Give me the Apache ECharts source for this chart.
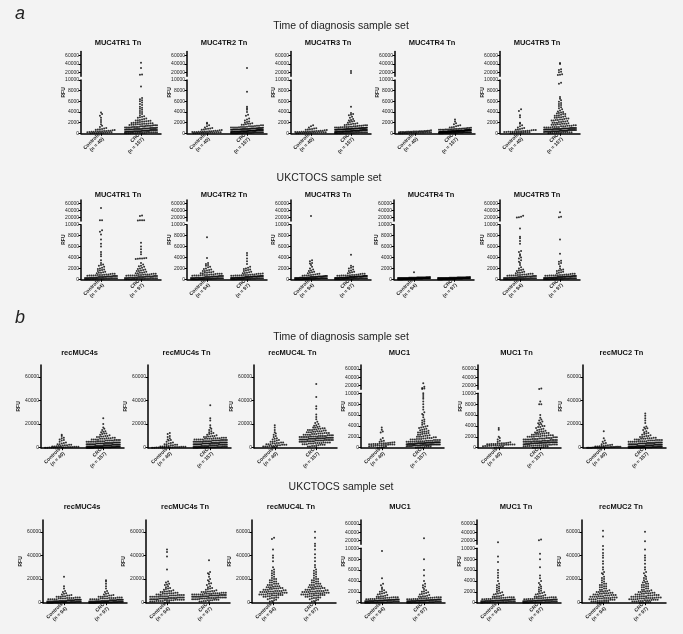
<!DOCTYPE html>
<html><head><meta charset="utf-8">
<script src="https://cdn.jsdelivr.net/npm/echarts@6/dist/echarts.min.js"></script>
<style>html,body{margin:0;padding:0;background:#f3f3f3}#c{width:683px;height:634px}</style>
</head><body><div id="c"></div>
<script>
// ---------- category labels ----------
const catsTOD = ['Controls\n(n = 40)', 'CRC\n(n = 157)'];
const catsUK = ['Controls\n(n = 94)', 'CRC\n(n = 97)'];
const ticksLow = [0, 2000, 4000, 6000, 8000, 10000];
const ticksHigh = [20000, 40000, 60000];
const ticksFull = [0, 20000, 40000, 60000];

// ---------- (a) Time of diagnosis ----------
const aTOD_TR1_ctrl = [3900,3600,3300,2900,2500,2100,1700,1400,1200,1000,900,800,750,700,650,600,550,500,480,450,420,400,380,350,320,300,280,250,220,200,180,160,140,120,100,90,70,50,40,20];
const aTOD_TR1_crc = [43000,30000,14500,14000,8800,6600,6400,6200,6000,5800,5500,5300,5000,4800,4600,4400,4200,4000,3800,3600,3400,3200,3100,3000,2900,2800,2700,2600,2500,2450,2400,2350,2300,2250,2200,2150,2100,2050,2000,2000,1950,1900,1900,1850,1800,1800,1750,1700,1700,1650,1600,1600,1550,1500,1500,1500,1450,1400,1400,1400,1350,1300,1300,1300,1250,1200,1200,1200,1200,1150,1100,1100,1100,1100,1050,1000,1000,1000,1000,1000,950,900,900,900,900,900,850,800,800,800,800,800,800,750,700,700,700,700,700,700,650,600,600,600,600,600,600,600,550,500,500,500,500,500,500,500,450,400,400,400,400,400,400,400,350,300,300,300,300,300,300,300,250,200,200,200,200,200,200,150,100,100,100,100,100,50,50,50,0,0,0,0];
const aTOD_TR2_ctrl = [2000,1800,1500,1300,1100,1000,900,850,800,700,650,600,550,500,500,450,400,400,350,350,300,300,300,250,250,250,200,200,200,150,150,150,100,100,100,80,60,50,30,10];
const aTOD_TR2_crc = [30000,7800,5000,4700,4400,4000,3500,3300,2800,2600,2400,2200,2100,2000,1900,1800,1800,1700,1600,1600,1500,1500,1400,1400,1350,1300,1300,1250,1200,1200,1200,1150,1100,1100,1100,1050,1000,1000,1000,1000,950,950,900,900,900,900,850,850,800,800,800,800,800,750,750,700,700,700,700,700,700,650,650,600,600,600,600,600,600,600,550,550,500,500,500,500,500,500,500,500,450,450,400,400,400,400,400,400,400,400,350,350,300,300,300,300,300,300,300,300,300,250,250,200,200,200,200,200,200,200,200,150,150,100,100,100,100,100,100,100,80,60,50,50,40,30,20,10,0,0,0,0,700,900,1100,1300,500,300,600,800];
const aTOD_TR3_ctrl = [1500,1300,1100,950,900,800,750,700,650,600,550,500,500,450,450,400,400,350,350,300,300,300,250,250,250,200,200,200,200,150,150,150,100,100,100,80,60,50,30,20];
const aTOD_TR3_crc = [23000,18000,5000,3800,3600,3500,3400,3100,2900,2700,2500,2400,2300,2200,2100,2000,1900,1800,1800,1700,1650,1600,1550,1500,1500,1450,1400,1400,1350,1300,1300,1250,1200,1200,1200,1150,1100,1100,1100,1050,1000,1000,1000,1000,1000,950,950,900,900,900,900,900,850,850,800,800,800,800,800,800,750,750,700,700,700,700,700,700,700,650,650,600,600,600,600,600,600,600,550,550,500,500,500,500,500,500,500,500,450,450,400,400,400,400,400,400,400,350,350,300,300,300,300,300,300,300,250,250,200,200,200,200,200,200,150,150,100,100,100,100,100,80,60,50,40,30,20,10,0,0,650,850,950,550,450,350,250,150,750,1050,1150,1250];
const aTOD_TR4_ctrl = [550,500,480,450,430,400,400,380,360,350,340,320,300,300,300,280,260,250,250,240,220,200,200,200,180,160,150,150,140,120,100,100,100,80,60,50,40,30,20,10];
const aTOD_TR4_crc = [2600,2200,1900,1700,1500,1400,1300,1200,1150,1100,1050,1000,1000,950,900,900,850,850,800,800,800,750,750,700,700,700,700,650,650,650,600,600,600,600,600,600,550,550,550,550,500,500,500,500,500,500,500,500,450,450,450,450,450,450,400,400,400,400,400,400,400,400,400,350,350,350,350,350,350,300,300,300,300,300,300,300,300,300,250,250,250,250,250,250,200,200,200,200,200,200,200,200,150,150,150,150,150,100,100,100,100,100,100,80,80,60,60,50,50,40,30,20,10,0,0,0,620,580,520,480,420,380,320,280,220,180,120,90,70,660,560,460,360,260,160,60,540,440,340,240,140,40,600,500,400,300,200];
const aTOD_TR5_ctrl = [4500,4200,3400,3000,2000,1800,1500,1300,1100,1000,900,800,700,650,600,600,550,500,500,450,450,400,400,350,350,300,300,300,250,250,200,200,200,150,150,100,100,60,40,20];
const aTOD_TR5_crc = [42000,40000,27000,25000,21000,20000,15000,14000,13000,9500,9300,6800,6500,6200,5900,5700,5500,5300,5100,4900,4700,4500,4300,4100,4000,3900,3800,3700,3600,3500,3400,3300,3200,3100,3000,3000,2900,2800,2800,2700,2600,2600,2500,2400,2400,2300,2200,2200,2100,2000,2000,2000,1900,1800,1800,1800,1700,1600,1600,1600,1500,1500,1400,1400,1400,1300,1300,1200,1200,1200,1200,1100,1100,1100,1000,1000,1000,1000,1000,950,900,900,900,900,900,850,800,800,800,800,800,800,750,700,700,700,700,700,700,650,600,600,600,600,600,600,550,500,500,500,500,500,500,450,400,400,400,400,400,350,300,300,300,300,300,250,200,200,200,200,150,100,100,100,50,50,0,3600,3300,2900,2500,2100,1700,1300,1000,900,800,700,600,500,400,300,200,1100];

// ---------- (a) UKCTOCS ----------
const aUK_TR1_ctrl = [47000,12500,12000,9000,8700,8200,7300,6500,6000,5000,4600,4200,3500,3000,2700,2600,2500,2300,2100,2000,1900,1800,1700,1600,1500,1400,1300,1200,1200,1100,1000,1000,950,900,900,850,800,800,800,750,700,700,700,650,600,600,600,600,550,500,500,500,500,450,450,400,400,400,400,400,350,350,300,300,300,300,300,250,250,250,250,200,200,200,200,200,150,150,150,150,100,100,100,100,100,80,60,50,50,40,30,20,10,0];
const aUK_TR1_crc = [26000,24000,12500,12000,11800,11500,6700,6000,5500,5000,4600,3900,3850,3800,3800,3750,3700,3000,2700,2500,2400,2300,2100,2000,1900,1800,1700,1600,1500,1400,1300,1200,1100,1100,1000,1000,950,900,900,850,800,800,750,700,700,700,650,600,600,600,550,500,500,500,500,450,400,400,400,400,350,350,300,300,300,300,250,250,250,200,200,200,200,150,150,150,100,100,100,100,80,60,50,40,30,20,10,0,0,300,500,700,900,1200,1500,200,400];
const aUK_TR2_ctrl = [7700,3900,3000,2800,2600,2500,2300,2200,2000,1900,1800,1700,1600,1500,1500,1400,1300,1300,1200,1200,1100,1100,1000,1000,1000,950,900,900,850,800,800,800,750,700,700,700,650,600,600,600,600,550,500,500,500,500,450,450,400,400,400,400,400,350,350,300,300,300,300,300,300,250,250,250,250,200,200,200,200,200,200,150,150,150,150,100,100,100,100,100,100,80,80,60,50,50,40,30,20,20,10,10,0,0];
const aUK_TR2_crc = [4800,4400,3800,3300,2800,2300,2100,2000,1900,1800,1700,1600,1500,1400,1300,1200,1150,1100,1050,1000,1000,950,900,900,850,800,800,800,750,700,700,700,650,650,600,600,600,600,550,550,500,500,500,500,500,450,450,400,400,400,400,400,400,350,350,350,300,300,300,300,300,300,300,250,250,250,250,200,200,200,200,200,200,150,150,150,150,100,100,100,100,100,100,80,60,50,50,40,30,20,10,0,0,250,350,450,550];
const aUK_TR3_ctrl = [24000,3500,3300,3000,2900,2600,2300,2000,1800,1600,1500,1400,1300,1200,1100,1000,950,900,850,800,750,700,700,650,600,600,600,550,550,500,500,500,500,450,450,400,400,400,400,400,350,350,350,300,300,300,300,300,300,300,250,250,250,250,250,200,200,200,200,200,200,200,150,150,150,150,150,100,100,100,100,100,100,80,80,60,60,50,50,40,40,30,30,20,20,10,10,0,0,0,200,300,400,500];
const aUK_TR3_crc = [4500,2500,2300,2100,2000,1800,1600,1500,1400,1300,1200,1100,1000,1000,950,900,850,800,800,750,700,700,700,650,650,600,600,600,600,550,550,500,500,500,500,500,450,450,450,400,400,400,400,400,400,350,350,350,350,300,300,300,300,300,300,300,250,250,250,250,250,200,200,200,200,200,200,150,150,150,150,150,100,100,100,100,100,100,80,60,50,40,30,20,10,0,0,0,300,400,500,600,700,200,250,350,450];
const aUK_TR4_ctrl = [1300,400,390,380,370,360,350,340,330,320,310,300,300,300,300,290,280,270,260,250,250,250,250,240,230,220,210,200,200,200,200,200,190,180,170,160,150,150,150,150,150,140,130,120,110,100,100,100,100,100,100,90,80,70,60,50,50,50,50,40,30,20,10,0,0,0,0,320,280,240,200,160,120,80,40,330,270,230,190,170,130,90,60,20,340,260,220,180,140,110,70,30,350,310];
const aUK_TR4_crc = [400,390,380,370,360,350,340,330,320,310,300,300,300,300,290,280,270,260,250,250,250,250,240,230,220,210,200,200,200,200,200,190,180,170,160,150,150,150,150,150,140,130,120,110,100,100,100,100,100,100,90,80,70,60,50,50,50,50,40,30,20,10,0,0,0,0,320,280,240,200,160,120,80,40,330,270,230,190,170,130,90,60,20,340,260,220,180,140,110,70,30,350,310,250,210,150,110];
const aUK_TR5_ctrl = [25000,22000,21000,20000,9300,7800,7500,7000,6500,5200,5000,4600,4300,4000,3800,3500,3200,3000,2600,2200,2000,1800,1700,1600,1500,1400,1300,1200,1200,1100,1000,1000,950,900,900,850,800,800,750,700,700,700,650,600,600,600,550,500,500,500,500,450,450,400,400,400,400,400,350,350,300,300,300,300,300,250,250,250,250,200,200,200,200,200,150,150,150,150,100,100,100,100,100,80,60,50,50,40,30,20,10,0,0,0];
const aUK_TR5_crc = [35000,22000,21000,7300,4700,3400,3200,3000,2800,2400,2000,1800,1700,1600,1500,1400,1300,1200,1100,1000,1000,950,900,900,850,800,800,750,700,700,700,650,600,600,600,550,500,500,500,500,450,450,400,400,400,400,400,350,350,300,300,300,300,300,250,250,250,250,200,200,200,200,200,150,150,150,150,100,100,100,100,100,80,60,50,50,40,30,20,10,0,0,0,250,350,450,550,650,750,200,300,400,500,600,150,100];

// ---------- (b) Time of diagnosis ----------
const bTOD_rec4s_ctrl = [11000,10000,8500,8000,7000,6500,6000,5000,4500,4000,3500,3000,3000,2500,2500,2000,2000,1800,1500,1500,1200,1000,1000,800,800,700,600,500,500,400,400,300,300,200,200,150,100,100,50,0];
const bTOD_rec4s_crc = [25000,20000,17000,16000,15000,14000,13500,13000,12000,12000,11500,11000,10500,10000,10000,9500,9500,9000,9000,8500,8500,8000,8000,8000,7500,7500,7500,7000,7000,7000,7000,6500,6500,6500,6500,6000,6000,6000,6000,6000,5500,5500,5500,5500,5500,5000,5000,5000,5000,5000,5000,4500,4500,4500,4500,4500,4500,4000,4000,4000,4000,4000,4000,4000,3500,3500,3500,3500,3500,3500,3500,3000,3000,3000,3000,3000,3000,3000,3000,2500,2500,2500,2500,2500,2500,2500,2500,2000,2000,2000,2000,2000,2000,2000,2000,1500,1500,1500,1500,1500,1500,1500,1500,1000,1000,1000,1000,1000,1000,1000,1000,800,800,800,800,800,600,600,600,600,600,400,400,400,400,400,300,300,300,300,200,200,200,200,200,100,100,100,100,100,50,50,50,0,0,0,0,0];
const bTOD_rec4sTn_ctrl = [12500,11500,10000,9000,8000,7000,6500,6000,5000,4500,4000,3500,3000,3000,2500,2500,2000,2000,1500,1500,1200,1000,1000,800,800,700,600,500,500,400,400,300,300,200,200,150,100,100,50,0];
const bTOD_rec4sTn_crc = [36000,25000,23000,19000,17000,16000,15000,14000,13000,12500,12000,11500,11000,10500,10000,10000,9500,9500,9000,9000,8500,8500,8500,8000,8000,8000,8000,7500,7500,7500,7500,7000,7000,7000,7000,7000,6500,6500,6500,6500,6500,6000,6000,6000,6000,6000,6000,5500,5500,5500,5500,5500,5500,5000,5000,5000,5000,5000,5000,5000,4500,4500,4500,4500,4500,4500,4500,4000,4000,4000,4000,4000,4000,4000,4000,3500,3500,3500,3500,3500,3500,3500,3500,3000,3000,3000,3000,3000,3000,3000,3000,2500,2500,2500,2500,2500,2500,2500,2000,2000,2000,2000,2000,2000,2000,1500,1500,1500,1500,1500,1500,1000,1000,1000,1000,1000,1000,800,800,800,800,600,600,600,600,400,400,400,400,300,300,300,200,200,200,100,100,100,50,50,0,0];
const bTOD_rec4LTn_ctrl = [19000,17000,15000,13000,12000,11000,10000,9000,8000,7500,7000,6500,6000,5500,5000,5000,4500,4500,4000,4000,3500,3500,3000,3000,3000,2500,2500,2500,2000,2000,2000,1500,1500,1500,1000,1000,1000,800,500,300];
const bTOD_rec4LTn_crc = [54000,43000,35000,33000,28000,26000,24000,22000,21000,20000,19000,18500,18000,17500,17000,17000,16500,16500,16000,16000,15500,15500,15000,15000,15000,14500,14500,14000,14000,14000,13500,13500,13000,13000,13000,12500,12500,12500,12000,12000,12000,11500,11500,11500,11000,11000,11000,11000,10500,10500,10500,10500,10000,10000,10000,10000,10000,9500,9500,9500,9500,9500,9000,9000,9000,9000,9000,9000,8500,8500,8500,8500,8500,8500,8000,8000,8000,8000,8000,8000,8000,7500,7500,7500,7500,7500,7500,7000,7000,7000,7000,7000,7000,7000,6500,6500,6500,6500,6500,6500,6000,6000,6000,6000,6000,6000,5500,5500,5500,5500,5500,5000,5000,5000,5000,5000,4500,4500,4500,4500,4000,4000,4000,4000,3500,3500,3500,3000,3000,3000,2500,2500,2500,2000,2000,1500,1500,1000,1000,500];
const bTOD_MUC1_ctrl = [3700,3300,3000,2800,1800,1500,1300,1200,1100,1000,950,900,850,800,800,750,750,700,700,700,650,650,600,600,600,550,500,500,450,400,400,350,300,300,250,200,150,100,50,0];
const bTOD_MUC1_crc = [25000,16000,13000,12000,11000,10000,9700,9300,9000,8500,8000,7500,7000,6500,6200,6000,5600,5200,5000,4800,4600,4400,4200,4000,3900,3800,3700,3600,3500,3400,3300,3200,3100,3000,3000,2900,2800,2800,2700,2600,2600,2500,2400,2400,2300,2200,2200,2100,2000,2000,2000,1900,1900,1800,1800,1800,1700,1700,1600,1600,1600,1500,1500,1500,1400,1400,1400,1400,1300,1300,1300,1300,1200,1200,1200,1200,1200,1100,1100,1100,1100,1100,1000,1000,1000,1000,1000,1000,950,950,900,900,900,900,900,900,850,850,800,800,800,800,800,800,800,750,750,700,700,700,700,700,700,700,650,650,600,600,600,600,600,600,600,550,550,500,500,500,500,500,500,450,450,400,400,400,400,400,350,300,300,300,300,250,200,200,200,150,100,100,50,0];
const bTOD_MUC1Tn_ctrl = [3600,3300,2000,1800,1500,1300,1100,1000,900,850,800,800,750,750,700,700,700,650,650,600,600,600,550,550,500,500,450,450,400,400,350,350,300,300,250,200,150,100,50,0];
const bTOD_MUC1Tn_crc = [12000,11000,8500,8000,8000,6000,5500,5200,5000,4800,4600,4500,4300,4200,4000,4000,3800,3800,3600,3500,3400,3300,3200,3100,3000,3000,2900,2800,2800,2700,2700,2600,2600,2500,2500,2500,2400,2400,2300,2300,2300,2200,2200,2200,2100,2100,2100,2000,2000,2000,2000,1900,1900,1900,1800,1800,1800,1800,1700,1700,1700,1700,1600,1600,1600,1600,1500,1500,1500,1500,1500,1400,1400,1400,1400,1400,1300,1300,1300,1300,1300,1200,1200,1200,1200,1200,1200,1100,1100,1100,1100,1100,1100,1000,1000,1000,1000,1000,1000,950,950,950,900,900,900,900,850,850,850,800,800,800,800,750,750,750,700,700,700,700,650,650,600,600,600,550,550,500,500,500,450,450,400,400,350,350,300,300,250,250,200,200,150,100,100,50,0,0];
const bTOD_rec2Tn_ctrl = [14000,8000,6000,5000,4000,3500,3000,2500,2200,2000,1800,1500,1500,1200,1000,1000,900,800,800,700,600,600,500,500,400,400,350,300,300,250,200,200,150,100,100,80,50,30,10,0];
const bTOD_rec2Tn_crc = [29000,27000,25000,23000,21000,18000,17000,16500,16000,15000,14000,13000,12500,12000,11500,11000,10500,10000,10000,9500,9000,9000,8500,8500,8000,8000,8000,7500,7500,7500,7000,7000,7000,6500,6500,6500,6500,6000,6000,6000,6000,5500,5500,5500,5500,5500,5000,5000,5000,5000,5000,4500,4500,4500,4500,4500,4500,4000,4000,4000,4000,4000,4000,4000,3500,3500,3500,3500,3500,3500,3500,3000,3000,3000,3000,3000,3000,3000,3000,2500,2500,2500,2500,2500,2500,2500,2500,2000,2000,2000,2000,2000,2000,2000,2000,1500,1500,1500,1500,1500,1500,1500,1500,1000,1000,1000,1000,1000,1000,1000,1000,800,800,800,800,800,600,600,600,600,600,400,400,400,400,400,300,300,300,300,200,200,200,200,100,100,100,100,50,50,50,0,0,0];

// ---------- (b) UKCTOCS ----------
const bUK_rec4s_ctrl = [22000,14000,12000,10000,9000,8000,7500,7000,6500,6000,6000,5500,5500,5000,5000,5000,4500,4500,4500,4000,4000,4000,4000,3500,3500,3500,3500,3000,3000,3000,3000,3000,2500,2500,2500,2500,2500,2500,2000,2000,2000,2000,2000,2000,2000,1500,1500,1500,1500,1500,1500,1500,1200,1200,1200,1200,1200,1000,1000,1000,1000,1000,1000,800,800,800,800,800,600,600,600,600,600,400,400,400,400,400,300,300,300,200,200,200,200,100,100,100,50,50,0,0,0,0];
const bUK_rec4s_crc = [19000,18000,16000,14000,12000,10000,9000,8000,7500,7000,6500,6000,6000,5500,5500,5000,5000,5000,4500,4500,4500,4000,4000,4000,4000,3500,3500,3500,3500,3000,3000,3000,3000,3000,2500,2500,2500,2500,2500,2500,2000,2000,2000,2000,2000,2000,2000,1500,1500,1500,1500,1500,1500,1500,1200,1200,1200,1200,1200,1000,1000,1000,1000,1000,1000,800,800,800,800,800,600,600,600,600,600,400,400,400,400,400,300,300,300,200,200,200,200,100,100,100,50,50,0,0,0,0,0];
const bUK_rec4sTn_ctrl = [45000,43000,39000,28000,18000,17000,16000,15500,15000,14000,13000,12500,12000,11500,11000,10500,10000,10000,9500,9500,9000,9000,8500,8500,8000,8000,8000,7500,7500,7500,7000,7000,7000,6500,6500,6500,6500,6000,6000,6000,6000,5500,5500,5500,5500,5500,5000,5000,5000,5000,5000,4500,4500,4500,4500,4500,4000,4000,4000,4000,4000,4000,3500,3500,3500,3500,3500,3500,3000,3000,3000,3000,3000,3000,2500,2500,2500,2500,2500,2000,2000,2000,2000,2000,1500,1500,1500,1500,1000,1000,1000,500,500,0];
const bUK_rec4sTn_crc = [36000,26000,25000,24000,22000,20000,19000,18000,16500,16000,15000,14000,13000,12500,12000,11500,11000,10500,10000,10000,9500,9500,9000,9000,9000,8500,8500,8500,8000,8000,8000,8000,7500,7500,7500,7500,7000,7000,7000,7000,7000,6500,6500,6500,6500,6500,6000,6000,6000,6000,6000,6000,5500,5500,5500,5500,5500,5000,5000,5000,5000,5000,5000,4500,4500,4500,4500,4500,4000,4000,4000,4000,4000,3500,3500,3500,3500,3000,3000,3000,3000,2500,2500,2500,2000,2000,2000,1500,1500,1000,1000,500,3200,4200,5200,6200,7200];
const bUK_rec4LTn_ctrl = [55000,54000,45000,40000,38000,35000,30000,28000,27000,26000,25000,24000,23000,22000,21000,20000,20000,19000,19000,18000,18000,17000,17000,16000,16000,16000,15000,15000,15000,14000,14000,14000,13500,13000,13000,13000,12500,12500,12000,12000,12000,11500,11500,11000,11000,11000,10500,10500,10000,10000,10000,10000,9500,9500,9500,9000,9000,9000,9000,8500,8500,8500,8000,8000,8000,8000,7500,7500,7500,7000,7000,7000,7000,6500,6500,6500,6000,6000,6000,5500,5500,5000,5000,4500,4500,4000,4000,3500,3000,2500,2000,1500,1000,500];
const bUK_rec4LTn_crc = [60000,55000,50000,48000,45000,41000,38000,35000,32000,30000,28000,26000,25000,24000,23000,22000,21000,20000,20000,19000,19000,18000,18000,17000,17000,16000,16000,16000,15000,15000,15000,14000,14000,14000,13500,13000,13000,13000,12500,12500,12000,12000,12000,11500,11500,11000,11000,11000,10500,10500,10000,10000,10000,10000,9500,9500,9500,9000,9000,9000,9000,8500,8500,8500,8000,8000,8000,8000,7500,7500,7500,7000,7000,7000,7000,6500,6500,6500,6000,6000,6000,5500,5500,5000,5000,4500,4500,4000,4000,3500,3000,2500,2000,1500,1000,500,27000];
const bUK_MUC1_ctrl = [9500,4500,3500,3200,2800,2500,2300,2100,2000,1900,1800,1700,1600,1500,1400,1300,1200,1200,1100,1100,1000,1000,1000,950,900,900,850,800,800,800,750,700,700,700,650,650,600,600,600,600,550,550,500,500,500,500,450,450,450,400,400,400,400,400,350,350,350,300,300,300,300,300,250,250,250,250,200,200,200,200,200,150,150,150,150,100,100,100,100,100,80,60,50,50,40,30,20,10,0,0,0,350,450,550];
const bUK_MUC1_crc = [25000,8000,6000,5000,4000,3500,3200,3000,2800,2500,2300,2100,2000,1900,1800,1700,1600,1500,1400,1300,1200,1200,1100,1100,1000,1000,1000,950,900,900,850,800,800,800,750,700,700,700,650,650,600,600,600,600,550,550,500,500,500,500,450,450,450,400,400,400,400,400,350,350,350,300,300,300,300,300,250,250,250,250,200,200,200,200,200,150,150,150,150,100,100,100,100,100,80,60,50,50,40,30,20,10,0,0,0,350,450,550,650];
const bUK_MUC1Tn_ctrl = [15000,8500,7500,6000,5500,5000,4600,4000,3500,3200,3000,2800,2600,2400,2200,2000,1900,1800,1700,1600,1500,1400,1300,1200,1200,1100,1100,1000,1000,1000,950,900,900,850,800,800,800,750,700,700,700,650,650,600,600,600,600,550,550,500,500,500,500,450,450,450,400,400,400,400,400,350,350,350,300,300,300,300,300,250,250,250,250,200,200,200,200,200,150,150,150,150,100,100,100,100,100,80,60,50,40,30,20,10,0];
const bUK_MUC1Tn_crc = [22000,20000,9000,8000,6500,5000,4500,4000,3600,3300,3000,2800,2600,2400,2200,2000,1900,1800,1700,1600,1500,1400,1300,1200,1200,1100,1100,1000,1000,1000,950,900,900,850,800,800,800,750,700,700,700,650,650,600,600,600,600,550,550,500,500,500,500,450,450,450,400,400,400,400,400,350,350,350,300,300,300,300,300,250,250,250,250,200,200,200,200,200,150,150,150,150,100,100,100,100,100,80,60,50,40,30,20,10,0,0,0,0];
const bUK_rec2Tn_ctrl = [61000,56000,48000,45000,42000,40000,38000,35000,33000,30000,28000,26000,25000,24000,22000,21000,20000,19000,18000,17000,16000,16000,15000,15000,14000,14000,13000,13000,12000,12000,11000,11000,10500,10000,10000,9500,9500,9000,9000,8500,8500,8000,8000,8000,7500,7500,7000,7000,7000,6500,6500,6500,6000,6000,6000,5500,5500,5500,5000,5000,5000,5000,4500,4500,4500,4000,4000,4000,4000,3500,3500,3500,3000,3000,3000,3000,2500,2500,2500,2000,2000,2000,1500,1500,1500,1000,1000,1000,500,500,500,0,0,0];
const bUK_rec2Tn_crc = [60000,52000,45000,40000,38000,36000,33000,30000,28000,26000,25000,23000,22000,21000,20000,19000,18000,17500,17000,16000,16000,15000,15000,14000,14000,13000,13000,12000,12000,11000,11000,10500,10000,10000,9500,9500,9000,9000,8500,8500,8000,8000,8000,7500,7500,7000,7000,7000,6500,6500,6500,6000,6000,6000,5500,5500,5500,5000,5000,5000,5000,4500,4500,4500,4000,4000,4000,4000,3500,3500,3500,3000,3000,3000,3000,2500,2500,2500,2000,2000,2000,1500,1500,1500,1000,1000,1000,500,500,500,0,0,0,2200,3200,4200,5200];

// ---------- layout ----------
const FONT = 'Liberation Sans, Arial, sans-serif';
const rows = {
  a1: {top: 51.5, bottom: 133.3, upBottom: 76.3, lowTop: 80, titleY: 43, w: 80, xs: [81, 187, 291, 395, 500], cats: catsTOD},
  a2: {top: 200, bottom: 279.3, upBottom: 221, lowTop: 224.7, titleY: 195, w: 80, xs: [81, 187, 291, 394, 500], cats: catsUK},
  b1: {top: 365, bottom: 447.7, upBottom: 389.3, lowTop: 393.3, titleY: 353, w: 83, xs: [41, 148, 254, 361, 478, 583], cats: catsTOD},
  b2: {top: 520, bottom: 602.7, upBottom: 544.3, lowTop: 548.3, titleY: 507, w: 84, xs: [43, 146, 252, 361, 477, 582], cats: catsUK}
};
const panels = [
  ['a1', 'MUC4TR1 Tn', true, aTOD_TR1_ctrl, aTOD_TR1_crc],
  ['a1', 'MUC4TR2 Tn', true, aTOD_TR2_ctrl, aTOD_TR2_crc],
  ['a1', 'MUC4TR3 Tn', true, aTOD_TR3_ctrl, aTOD_TR3_crc],
  ['a1', 'MUC4TR4 Tn', true, aTOD_TR4_ctrl, aTOD_TR4_crc],
  ['a1', 'MUC4TR5 Tn', true, aTOD_TR5_ctrl, aTOD_TR5_crc],
  ['a2', 'MUC4TR1 Tn', true, aUK_TR1_ctrl, aUK_TR1_crc],
  ['a2', 'MUC4TR2 Tn', true, aUK_TR2_ctrl, aUK_TR2_crc],
  ['a2', 'MUC4TR3 Tn', true, aUK_TR3_ctrl, aUK_TR3_crc],
  ['a2', 'MUC4TR4 Tn', true, aUK_TR4_ctrl, aUK_TR4_crc],
  ['a2', 'MUC4TR5 Tn', true, aUK_TR5_ctrl, aUK_TR5_crc],
  ['b1', 'recMUC4s', false, bTOD_rec4s_ctrl, bTOD_rec4s_crc],
  ['b1', 'recMUC4s Tn', false, bTOD_rec4sTn_ctrl, bTOD_rec4sTn_crc],
  ['b1', 'recMUC4L Tn', false, bTOD_rec4LTn_ctrl, bTOD_rec4LTn_crc],
  ['b1', 'MUC1', true, bTOD_MUC1_ctrl, bTOD_MUC1_crc],
  ['b1', 'MUC1 Tn', true, bTOD_MUC1Tn_ctrl, bTOD_MUC1Tn_crc],
  ['b1', 'recMUC2 Tn', false, bTOD_rec2Tn_ctrl, bTOD_rec2Tn_crc],
  ['b2', 'recMUC4s', false, bUK_rec4s_ctrl, bUK_rec4s_crc],
  ['b2', 'recMUC4s Tn', false, bUK_rec4sTn_ctrl, bUK_rec4sTn_crc],
  ['b2', 'recMUC4L Tn', false, bUK_rec4LTn_ctrl, bUK_rec4LTn_crc],
  ['b2', 'MUC1', true, bUK_MUC1_ctrl, bUK_MUC1_crc],
  ['b2', 'MUC1 Tn', true, bUK_MUC1Tn_ctrl, bUK_MUC1Tn_crc],
  ['b2', 'recMUC2 Tn', false, bUK_rec2Tn_ctrl, bUK_rec2Tn_crc]
];

const DOT = 2.3, STEP = 2.1;
function swarm(vals, center, min, max, hPx, unitsPerPx, halfW) {
  const s = vals.slice().sort((a, b) => a - b);
  const bins = {}, order = [];
  s.forEach(v => {
    const b = Math.round((v - min) / (max - min) * hPx / DOT);
    if (!bins[b]) { bins[b] = []; order.push(b); }
    bins[b].push(v);
  });
  const out = [];
  order.forEach(b => {
    const arr = bins[b], n = arr.length;
    const dx = n > 1 ? Math.min(STEP, 2 * halfW / (n - 1)) : 0;
    arr.forEach((v, i) => out.push([center + (i - (n - 1) / 2) * dx * unitsPerPx, v]));
  });
  return out;
}

const grids = [], xAxis = [], yAxis = [], series = [], graphic = [];
const axisLineStyle = {show: true, lineStyle: {color: '#000', width: 1.5}};
const tickStyle = {show: true, length: 2.5, lineStyle: {color: '#000', width: 1}};
const yLabel = {fontSize: 5, color: '#222', fontFamily: FONT, margin: 2, formatter: v => String(v)};

function addGrid(l, t, w, h) { grids.push({left: l, top: t, width: w, height: h, containLabel: false}); return grids.length - 1; }

function addPoints(xi, yi, vals, min, max, h, w) {
  const halfW = w * 0.2;
  const data = [].concat(swarm(vals[0], 0.5, min, max, h, 2 / w, halfW), swarm(vals[1], 1.5, min, max, h, 2 / w, halfW));
  series.push({type: 'scatter', xAxisIndex: xi, yAxisIndex: yi, data: data, symbol: 'circle', symbolSize: 2,
    itemStyle: {color: '#000'}, silent: true, animation: false, clip: false});
}

panels.forEach(p => {
  const [rk, title, broken, ctrl, crc] = p;
  const r = rows[rk];
  const idx = panels.filter(q => q[0] === rk).indexOf(p);
  const x = r.xs[idx], w = r.w;
  graphic.push({type: 'text', x: x + w / 2 - 3, y: r.titleY, style: {text: title, fontSize: 7.5, fontWeight: 'bold', fontFamily: FONT, fill: '#111', align: 'center', verticalAlign: 'middle'}});
  const lowTop = broken ? r.lowTop : r.top;
  const hLow = r.bottom - lowTop;
  const gi = addGrid(x, lowTop, w, hLow);
  xAxis.push({type: 'category', gridIndex: gi, data: r.cats, position: 'bottom', boundaryGap: true,
    axisLine: axisLineStyle, axisTick: {show: true, length: 2.5, alignWithLabel: true, lineStyle: {color: '#000', width: 1}},
    axisLabel: {rotate: 45, fontSize: 5, fontWeight: 'bold', color: '#222', fontFamily: FONT, margin: 3, interval: 0, lineHeight: 6}});
  const xv = xAxis.length;
  xAxis.push({type: 'value', gridIndex: gi, min: 0, max: 2, show: false});
  const lowMax = broken ? 10000 : 70000;
  const lowTicks = broken ? ticksLow : ticksFull;
  const yl = yAxis.length;
  yAxis.push({type: 'value', gridIndex: gi, min: 0, max: lowMax, splitLine: {show: false},
    axisLine: axisLineStyle, axisTick: Object.assign({}, tickStyle, {customValues: lowTicks}),
    axisLabel: Object.assign({}, yLabel, {customValues: lowTicks}),
    name: broken ? '' : 'RFU', nameLocation: 'middle', nameGap: 15, nameRotate: 90,
    nameTextStyle: {fontSize: 5, fontWeight: 'bold', fontFamily: FONT, color: '#222'}});
  const lowVals = broken ? [ctrl.filter(v => v <= 10000), crc.filter(v => v <= 10000)] : [ctrl, crc];
  addPoints(xv, yl, lowVals, 0, lowMax, hLow, w);
  if (broken) {
    const hUp = r.upBottom - r.top;
    const gu = addGrid(x, r.top, w, hUp);
    const xu = xAxis.length;
    xAxis.push({type: 'value', gridIndex: gu, min: 0, max: 2, show: false});
    const yu = yAxis.length;
    yAxis.push({type: 'value', gridIndex: gu, min: 10000, max: 70000, splitLine: {show: false},
      axisLine: axisLineStyle, axisTick: Object.assign({}, tickStyle, {customValues: ticksHigh}),
      axisLabel: Object.assign({}, yLabel, {customValues: ticksHigh})});
    addPoints(xu, yu, [ctrl.filter(v => v > 10000), crc.filter(v => v > 10000)], 10000, 70000, hUp, w);
    const gn = addGrid(x, r.top, w, r.bottom - r.top);
    xAxis.push({type: 'value', gridIndex: gn, min: 0, max: 2, show: false});
    yAxis.push({type: 'value', gridIndex: gn, min: 0, max: 1, splitLine: {show: false},
      axisLine: {show: false}, axisTick: {show: false}, axisLabel: {show: false},
      name: 'RFU', nameLocation: 'middle', nameGap: 15, nameRotate: 90,
      nameTextStyle: {fontSize: 5, fontWeight: 'bold', fontFamily: FONT, color: '#222'}});
  }
});

const headings = [
  ['a', 20, 14, 18, 'italic'],
  ['Time of diagnosis sample set', 341, 26, 10.5, 'normal'],
  ['UKCTOCS sample set', 329, 178, 10.5, 'normal'],
  ['b', 20, 318, 18, 'italic'],
  ['Time of diagnosis sample set', 341, 337, 10.5, 'normal'],
  ['UKCTOCS sample set', 341, 487, 10.5, 'normal']
];
headings.forEach(h => graphic.push({type: 'text', x: h[1], y: h[2],
  style: {text: h[0], fontSize: h[3], fontStyle: h[4], fontFamily: FONT, fill: '#222', align: 'center', verticalAlign: 'middle'}}));

const chart = echarts.init(document.getElementById('c'), null, {renderer: 'canvas'});
chart.setOption({
  backgroundColor: '#f3f3f3',
  animation: false,
  grid: grids, xAxis: xAxis, yAxis: yAxis, series: series, graphic: graphic
});
</script></body></html>
